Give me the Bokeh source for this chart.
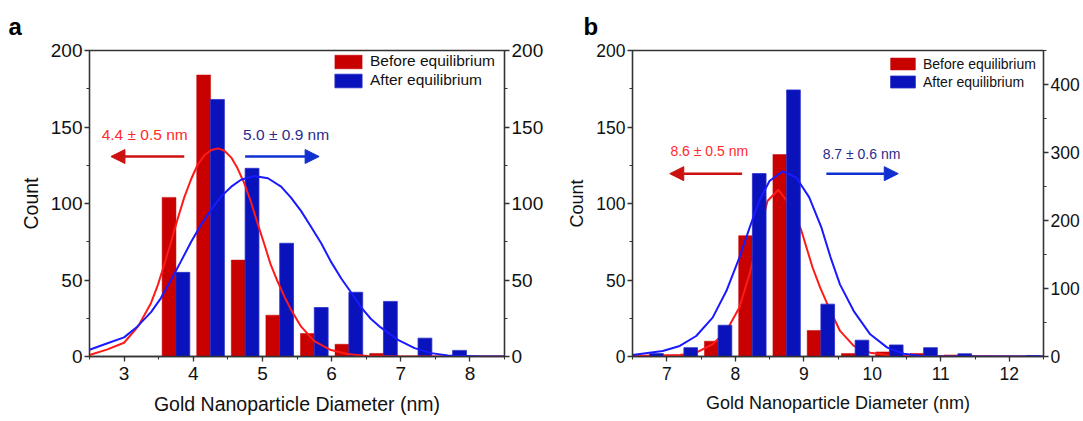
from bokeh.plotting import figure
from bokeh.models import (Range1d, LinearAxis, Legend, LegendItem, Label, Arrow, NormalHead,
                          SingleIntervalTicker, ColumnDataSource, Title)
from bokeh.layouts import row
from bokeh.transform import dodge
from bokeh.embed import file_html
from bokeh.resources import INLINE

# ---------------- data: panel a ----------------
a_bins = [3.75, 4.25, 4.75, 5.25, 5.75, 6.25, 6.75, 7.25, 7.75, 8.25]
a_before = [104, 184, 63, 27, 15, 8, 2, 0, 0, 0]
a_after = [55, 168, 123, 74, 32, 42, 36, 12, 4, 0]

a_fit_before_x = [2.5, 2.75, 3.0, 3.2, 3.39, 3.49, 3.58, 3.68, 3.775, 3.87, 3.97, 4.06,
                  4.16, 4.26, 4.36, 4.45, 4.55, 4.64, 4.74, 4.835, 4.93, 5.03, 5.12, 5.22,
                  5.32, 5.42, 5.56, 5.75, 5.99, 6.23, 6.52, 7.0, 8.5]
a_fit_before_y = [1.0, 4.5, 9, 19.5, 35, 47, 60, 75, 90, 104, 116, 125,
                  131.5, 135, 136, 134.5, 130, 123, 113, 101, 87, 73, 60, 49,
                  39, 30, 19.5, 10, 4.2, 1.6, 0.4, 0, 0]
a_fit_after_x = [2.5, 2.75, 3.0, 3.19, 3.39, 3.53, 3.68, 3.82, 3.97, 4.11, 4.26, 4.40,
                 4.55, 4.69, 4.88, 5.08, 5.27, 5.41, 5.56, 5.70, 5.85, 5.99, 6.14, 6.28,
                 6.43, 6.57, 6.71, 6.96, 7.2, 7.44, 7.68, 8.16, 8.5]
a_fit_after_y = [4.4, 8.5, 12.5, 19.5, 29, 38, 50, 62, 75, 86, 96, 104.5,
                 111, 115.5, 118, 116.5, 111, 104, 95, 85, 74, 62, 51, 42,
                 32, 24.5, 19, 10.9, 5.5, 2.2, 0.7, 0, 0]

# ---------------- data: panel b ----------------
b_bins = [6.75, 7.25, 7.75, 8.25, 8.75, 9.25, 9.75, 10.25, 10.75, 11.25, 11.75, 12.25]
b_before = [0, 1, 10, 79, 132, 17, 2, 3, 2, 1, 0, 0]          # left axis
b_after = [4.3, 13, 46, 269, 392, 77, 24, 17, 13, 4, 0, 1.5]   # right axis

b_fit_before_x = [6.5, 7.19, 7.43, 7.67, 7.87, 8.06, 8.21, 8.35, 8.47, 8.63, 8.79, 8.96,
                  9.13, 9.24, 9.39, 9.53, 9.73, 9.97, 10.22, 10.5, 12.5]
b_fit_before_y = [0.3, 1, 2.5, 8, 16.7, 32, 54, 80, 101.6, 109, 99.5, 83,
                  58, 45, 29.7, 16.7, 6.9, 2.5, 1, 0.3, 0]
b_fit_after_x = [6.5, 6.94, 7.19, 7.43, 7.67, 7.87, 8.06, 8.21, 8.35, 8.5, 8.69, 8.89,
                 9.08, 9.26, 9.39, 9.53, 9.73, 9.97, 10.22, 10.46, 10.7, 11.0, 12.5]
b_fit_after_y = [1, 3.6, 6.9, 13.4, 25.4, 42.8, 64.6, 84.2, 101.6, 114.7, 121, 117,
                 104, 84, 65, 47, 29.7, 14.5, 5.8, 1.8, 0.5, 0, 0]

x_ticks_label = "Gold Nanoparticle Diameter (nm)"
y_label = "Count"
labels = ["Before equilibrium", "After equilibrium"]

RED_BAR = "#c80000"
BLUE_BAR = "#0a12bb"
RED_LINE = "#ff1a1a"
BLUE_LINE = "#1a1aff"
FONT = "Liberation Sans"
AX = "#333333"


def style_axis(ax, tick_fs, label_fs, label_standoff, tick_standoff):
    ax.axis_line_color = AX
    ax.axis_line_width = 1.3
    ax.major_tick_line_color = AX
    ax.minor_tick_line_color = AX
    ax.major_tick_line_width = 1.3
    ax.minor_tick_line_width = 1.1
    ax.major_tick_out = 5
    ax.major_tick_in = 0
    ax.minor_tick_out = 3
    ax.minor_tick_in = 0
    ax.major_label_text_font = FONT
    ax.major_label_text_font_size = f"{tick_fs}px"
    ax.major_label_text_color = "#111111"
    ax.major_label_standoff = tick_standoff
    ax.axis_label_text_font = FONT
    ax.axis_label_text_font_size = f"{label_fs}px"
    ax.axis_label_text_font_style = "normal"
    ax.axis_label_text_color = "#111111"
    ax.axis_label_standoff = label_standoff


def make_panel(letter, letter_offset, bins, before, after, fb_x, fb_y, fa_x, fa_y, xr,
               right_max, right_interval, left_b, frame_w, right_b, top_b, frame_h, bottom_b,
               tick_fs, label_fs, legend_fs, legend_loc, glyph_w, glyph_h, label_h,
               curves_on_top):
    p = figure(width=left_b + frame_w + right_b, height=top_b + frame_h + bottom_b,
               x_range=Range1d(*xr), y_range=Range1d(0, 200),
               output_backend="svg", toolbar_location=None,
               min_border_left=left_b, min_border_right=right_b,
               min_border_top=top_b, min_border_bottom=bottom_b)
    p.title = Title(text=letter, align="left", offset=letter_offset, standoff=18,
                    vertical_align="top",
                    text_font=FONT, text_font_style="bold", text_font_size="24px",
                    text_color="#000000")
    p.xgrid.visible = False
    p.ygrid.visible = False
    p.outline_line_color = AX
    p.outline_line_width = 1.3
    p.background_fill_color = "white"
    p.border_fill_color = "white"
    p.extra_y_ranges = {"right": Range1d(0, right_max)}

    src = ColumnDataSource(dict(x=bins, before=before, after=after))
    after_range = "right" if right_max != 200 else "default"

    r_red = p.vbar(x=dodge("x", -0.1, range=p.x_range), top="before", width=0.2, source=src,
                   fill_color=RED_BAR, line_color=RED_BAR, line_width=0.5)
    if not curves_on_top:
        p.line(fb_x, fb_y, line_color=RED_LINE, line_width=2)
    r_blue = p.vbar(x=dodge("x", 0.1, range=p.x_range), top="after", width=0.2, source=src,
                    fill_color=BLUE_BAR, line_color="#2a30c8", line_width=0.8,
                    y_range_name=after_range)
    if curves_on_top:
        p.line(fb_x, fb_y, line_color=RED_LINE, line_width=2)
    p.line(fa_x, fa_y, line_color=BLUE_LINE, line_width=2)

    p.xaxis.ticker = SingleIntervalTicker(interval=1, num_minor_ticks=2)
    p.yaxis.ticker = SingleIntervalTicker(interval=50, num_minor_ticks=2)
    p.xaxis.axis_label = x_ticks_label
    p.yaxis.axis_label = y_label
    style_axis(p.xaxis[0], tick_fs, label_fs, 10, 5)
    style_axis(p.yaxis[0], tick_fs, label_fs, 6, 2)

    rax = LinearAxis(y_range_name="right",
                     ticker=SingleIntervalTicker(interval=right_interval, num_minor_ticks=2))
    style_axis(rax, tick_fs, label_fs, 4, 2)
    p.add_layout(rax, "right")

    legend = Legend(items=[LegendItem(label=labels[0], renderers=[r_red]),
                           LegendItem(label=labels[1], renderers=[r_blue])],
                    location=legend_loc, padding=0, margin=0, spacing=1,
                    glyph_width=glyph_w, glyph_height=glyph_h, label_standoff=5,
                    label_text_font=FONT, label_text_font_size=f"{legend_fs}px",
                    label_text_color="#111111", label_height=label_h,
                    border_line_alpha=0, background_fill_alpha=0)
    p.add_layout(legend, "center")
    return p


pa = make_panel("a", -81, a_bins, a_before, a_after, a_fit_before_x, a_fit_before_y,
                a_fit_after_x, a_fit_after_y, (2.5, 8.5), 200, 50,
                89, 415, 56, 49, 308, 64, 19, 19.5, 15.5, (242, 267), 34, 17, 17, True)
pb = make_panel("b", -49, b_bins, b_before, b_after, b_fit_before_x, b_fit_before_y,
                b_fit_after_x, b_fit_after_y, (6.5, 12.5), 450, 100,
                72, 411, 40, 50, 306, 65, 17.5, 18, 14, (255, 266), 31, 15, 17, False)

# annotations panel a
pa.add_layout(Label(x=2.676, y=144.8, text="4.4 \u00b1 0.5 nm", text_font=FONT,
                    text_font_size="15.5px", text_color="#ff2a2a", text_baseline="middle"))
pa.add_layout(Label(x=4.72, y=144.8, text="5.0 \u00b1 0.9 nm", text_font=FONT,
                    text_font_size="15.5px", text_color="#2b2b8c", text_baseline="middle"))
pa.add_layout(Arrow(end=NormalHead(size=14, fill_color="#cc1111", line_color="#cc1111"),
                    x_start=3.87, y_start=130.7, x_end=2.81, y_end=130.7,
                    line_color="#cc1111", line_width=2.5))
pa.add_layout(Arrow(end=NormalHead(size=14, fill_color="#1030d0", line_color="#1030d0"),
                    x_start=4.75, y_start=130.7, x_end=5.82, y_end=130.7,
                    line_color="#1030d0", line_width=2.5))

# annotations panel b
pb.add_layout(Label(x=7.054, y=134.3, text="8.6 \u00b1 0.5 nm", text_font=FONT,
                    text_font_size="14px", text_color="#ff2a2a", text_baseline="middle"))
pb.add_layout(Label(x=9.276, y=132.5, text="8.7 \u00b1 0.6 nm", text_font=FONT,
                    text_font_size="14px", text_color="#2b2b8c", text_baseline="middle"))
pb.add_layout(Arrow(end=NormalHead(size=14, fill_color="#cc1111", line_color="#cc1111"),
                    x_start=8.10, y_start=119.5, x_end=7.044, y_end=119.5,
                    line_color="#cc1111", line_width=2.5))
pb.add_layout(Arrow(end=NormalHead(size=14, fill_color="#1030d0", line_color="#1030d0"),
                    x_start=9.33, y_start=119.5, x_end=10.38, y_end=119.5,
                    line_color="#1030d0", line_width=2.5))

layout = row(pa, pb, spacing=0)
open("out.html", "w").write(file_html(layout, INLINE))
